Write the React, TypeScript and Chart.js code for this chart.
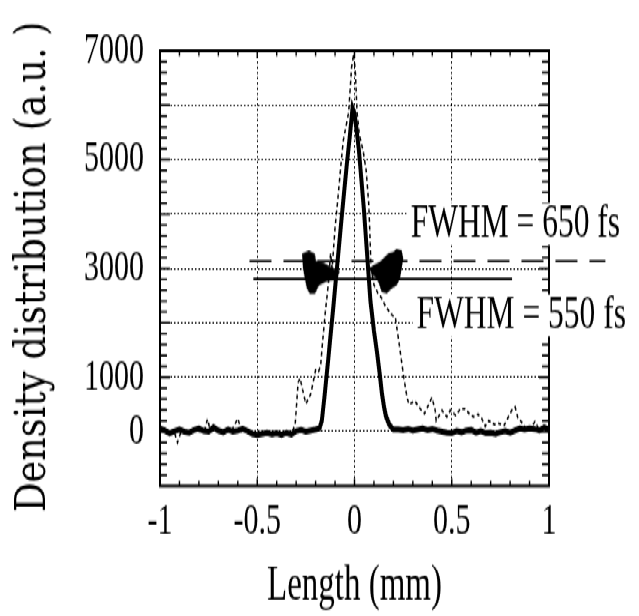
import React, { useEffect, useRef } from 'react';
import { Chart, registerables } from 'chart.js';

Chart.register(...registerables);

// ---------------- data ----------------
const xTickValues = [-1, -0.5, 0, 0.5, 1];
const xTickLabels = ['-1', '-0.5', '0', '0.5', '1'];
const yTickValues = [0, 1000, 3000, 5000, 7000];
const yTickLabels = ['0', '1000', '3000', '5000', '7000'];
const xTitle = 'Length (mm)';
const yTitle = 'Density distribution (a.u. )';

// thick solid profile (FWHM = 550 fs)
const narrowX = [
  -1, -0.975, -0.95, -0.925, -0.9, -0.875, -0.85, -0.825, -0.8, -0.775, -0.75, -0.725, -0.7, -0.675,
  -0.65, -0.625, -0.6, -0.575, -0.55, -0.525, -0.5, -0.475, -0.45, -0.425, -0.4, -0.375, -0.35, -0.325,
  -0.3, -0.275, -0.25, -0.225, -0.2, -0.18, -0.168, -0.155, -0.135, -0.11, -0.088, -0.063, -0.04, -0.025,
  -0.01, 0, 0.012, 0.022, 0.035, 0.048, 0.065, 0.082, 0.1, 0.116, 0.13, 0.141, 0.152, 0.162, 0.18, 0.2,
  0.225, 0.25, 0.275, 0.3, 0.325, 0.35, 0.375, 0.4, 0.425, 0.45, 0.475, 0.5, 0.525, 0.55, 0.575, 0.6,
  0.625, 0.65, 0.675, 0.7, 0.725, 0.75, 0.775, 0.8, 0.825, 0.85, 0.875, 0.9, 0.925, 0.95, 0.975, 1,
];
const narrowY = [
  60, 20, -30, 10, 40, 0, -20, 30, 60, 10, 0, 80, 20, -10,
  40, 0, 20, 50, 10, -40, -60, -40, -20, -50, -30, -60, -20, -50,
  10, 30, 0, 20, 40, 60, 200, 620, 1330, 2250, 3100, 4050, 4900, 5400,
  5950, 5850, 5500, 5200, 4650, 4100, 3250, 2400, 1850, 1450, 1050, 700, 450, 280, 120, 40,
  40, 30, 50, 20, 40, 60, 30, 50, 20, 0, -20, -30, 10, -10, 20, 30,
  -20, 10, -30, -20, -40, -10, 10, -20, 20, 60, 40, 60, 50, 20, 80, 40,
];

// thin dashed profile (FWHM = 650 fs)
const wideX = [
  -1, -0.96, -0.93, -0.91, -0.89, -0.85, -0.82, -0.8, -0.77, -0.756, -0.74, -0.7, -0.66, -0.63,
  -0.6, -0.58, -0.55, -0.52, -0.48, -0.45, -0.42, -0.38, -0.35, -0.32, -0.305, -0.29, -0.28, -0.265,
  -0.25, -0.235, -0.225, -0.2, -0.185, -0.174, -0.166, -0.15, -0.135, -0.123, -0.115, -0.1, -0.085,
  -0.07, -0.058, -0.03, -0.015, -0.004, 0.005, 0.013, 0.025, 0.045, 0.06, 0.073, 0.078, 0.085, 0.1,
  0.12, 0.14, 0.16, 0.19, 0.21, 0.23, 0.254, 0.27, 0.28, 0.31, 0.338, 0.36, 0.398, 0.415, 0.42, 0.45,
  0.475, 0.492, 0.52, 0.545, 0.569, 0.59, 0.612, 0.635, 0.653, 0.672, 0.69, 0.72, 0.74, 0.77, 0.808,
  0.826, 0.84, 0.858, 0.88, 0.9, 0.928, 0.95, 0.979, 1,
];
const wideY = [
  40, -10, 30, -200, 20, 0, 40, 10, 30, 230, 10, 20, -10, 30,
  240, 10, 20, -40, -60, -30, -70, -40, -60, 0, 130, 900, 980, 740,
  510, 620, 690, 1130, 1100, 1215, 1570, 2200, 2700, 3280, 3000, 3750, 4300,
  4900, 5345, 5870, 6700, 6950, 6580, 5875, 5460, 5150, 4800, 4200, 3750, 3000, 2700,
  2550, 2455, 2300, 2150, 2100, 1600, 980, 626, 500, 560, 420, 330, 626, 390, 200, 390,
  270, 390, 300, 420, 420, 330, 270, 320, 250, 95, 200, 130, 150, 120, 390,
  450, 250, 180, 60, 40, 185, 30, 95, 50,
];

// FWHM marker lines
const fwhm650X = [-0.54, 1.29];
const fwhm650Y = [3133, 3133];
const fwhm550X = [-0.52, 0.81];
const fwhm550Y = [2808, 2808];

// FWHM arrow heads
const arrowX = [-0.173, 0.167];
const arrowY = [2915, 2942];

// annotations
const noteTexts = ['FWHM = 650 fs', 'FWHM = 550 fs'];
const noteX = [0.289, 0.319];
const noteY = [3818, 2136];

// ---------------- layout ----------------
const W = 639;
const FINAL_H = 616;
const H = 411;
const S = FINAL_H / H; // vertical stretch of the original picture
const SERIF = '"Liberation Serif", "Times New Roman", Times, serif';
const SLAB = '"DejaVu Serif", "Liberation Serif", serif';

const pts = (xs: number[], ys: number[]) => xs.map((x, i) => ({ x, y: ys[i] }));

function makeArrow(poly: number[][], w: number, h: number): HTMLCanvasElement {
  const c = document.createElement('canvas');
  c.width = Math.ceil(w);
  c.height = Math.ceil(h / S);
  const g = c.getContext('2d')!;
  g.fillStyle = '#000';
  g.beginPath();
  poly.forEach(([px, py], i) => {
    if (i === 0) g.moveTo(px, py / S);
    else g.lineTo(px, py / S);
  });
  g.closePath();
  g.fill();
  return c;
}

const framePlugin = {
  id: 'frameTicks',
  beforeDatasetsDraw(chart: any) {
    const { ctx, chartArea: a, scales } = chart;
    const x = scales.x;
    const y = scales.y;
    ctx.save();
    ctx.strokeStyle = '#000';
    ctx.lineWidth = 2;
    ctx.strokeRect(a.left, a.top, a.right - a.left, a.bottom - a.top);
    ctx.lineWidth = 1.4;
    ctx.beginPath();
    for (let i = -9; i <= 9; i++) {
      const px = x.getPixelForValue(i / 10);
      const len = i % 5 === 0 ? 5 : 3.5;
      ctx.moveTo(px, a.bottom);
      ctx.lineTo(px, a.bottom - len);
      ctx.moveTo(px, a.top);
      ctx.lineTo(px, a.top + len);
    }
    for (let v = -800; v <= 6800; v += 200) {
      const py = y.getPixelForValue(v);
      const len = v % 1000 === 0 ? 10 : 7;
      ctx.moveTo(a.left, py);
      ctx.lineTo(a.left + len, py);
      ctx.moveTo(a.right, py);
      ctx.lineTo(a.right - len, py);
    }
    ctx.stroke();
    ctx.restore();
  },
  afterDatasetsDraw(chart: any) {
    const { ctx, scales } = chart;
    const x = scales.x;
    const y = scales.y;
    ctx.save();
    ctx.font = '31.5px ' + SERIF;
    ctx.textAlign = 'left';
    ctx.textBaseline = 'middle';
    noteTexts.forEach((t, i) => {
      const px = x.getPixelForValue(noteX[i]);
      const py = y.getPixelForValue(noteY[i]);
      const w = ctx.measureText(t).width;
      ctx.fillStyle = '#fff';
      ctx.fillRect(px - 4, py - 14, w + 8, 28);
      ctx.fillStyle = '#000';
      ctx.fillText(t, px, py);
    });
    ctx.restore();
  },
  afterDraw(chart: any) {
    const { ctx } = chart;
    ctx.save();
    ctx.font = '42px ' + SLAB;
    const w = ctx.measureText(yTitle).width;
    ctx.translate(45, 178);
    ctx.rotate(-Math.PI / 2);
    ctx.scale(327 / w, 1);
    ctx.textAlign = 'center';
    ctx.textBaseline = 'alphabetic';
    ctx.fillStyle = '#000';
    ctx.fillText(yTitle, 0, 0);
    ctx.restore();
  },
};

export default function App() {
  const ref = useRef<HTMLCanvasElement | null>(null);

  useEffect(() => {
    if (!ref.current) return;
    Chart.defaults.color = '#000';
    Chart.defaults.font.family = SERIF;

    const leftArrow = makeArrow(
      [[0, 3], [7, 0], [13, 3], [14, 10], [20, 11], [27, 15], [33, 18], [38, 21], [33, 29], [24, 31],
       [17, 35], [13, 43], [8, 43], [5, 38], [3, 28], [1, 17]],
      38, 44,
    );
    const rightArrow = makeArrow(
      [[0, 20], [3, 16.7], [10, 13.3], [15, 8.3], [18.3, 5], [23.3, 3.3], [26.7, 0], [31.7, 1.7],
       [33.3, 10], [31.7, 20], [30, 30], [26.7, 36.7], [21.7, 40], [16.7, 45], [11.7, 43.3],
       [8.3, 33.3], [5, 28.3], [1.7, 26.7]],
      34, 45,
    );

    const chartTop = 34 / S;
    const chartBottom = 486 / S;

    const chart = new Chart(ref.current, {
      type: 'scatter',
      data: {
        datasets: [
          {
            label: 'arrows',
            data: pts(arrowX, arrowY),
            showLine: false,
            pointStyle: [leftArrow, rightArrow] as any,
            pointRadius: 5,
            pointHoverRadius: 5,
          },
          {
            label: 'narrow',
            data: pts(narrowX, narrowY),
            showLine: true,
            borderColor: '#000',
            borderWidth: 4,
            pointRadius: 0,
            tension: 0,
          },
          {
            label: 'fwhm550',
            data: pts(fwhm550X, fwhm550Y),
            showLine: true,
            borderColor: '#000',
            borderWidth: 1.6,
            pointRadius: 0,
            clip: false as any,
          },
          {
            label: 'fwhm650',
            data: pts(fwhm650X, fwhm650Y),
            showLine: true,
            borderColor: '#000',
            borderWidth: 1.6,
            borderDash: [22, 12],
            pointRadius: 0,
            clip: false as any,
          },
          {
            label: 'wide',
            data: pts(wideX, wideY),
            showLine: true,
            borderColor: '#000',
            borderWidth: 1.5,
            borderDash: [3, 2.5],
            pointRadius: 0,
            tension: 0,
          },
        ],
      },
      options: {
        responsive: false,
        animation: false,
        devicePixelRatio: 1,
        layout: { padding: { top: chartTop, right: W - 549, left: 0, bottom: 0 } },
        plugins: { legend: { display: false }, tooltip: { enabled: false } },
        scales: {
          x: {
            type: 'linear',
            min: -1,
            max: 1,
            afterFit: (s: any) => { s.height = H - chartBottom; },
            ticks: {
              stepSize: 0.5,
              autoSkip: false,
              maxRotation: 0,
              padding: 6,
              font: { size: 30, family: SERIF },
              callback: (v: any) => {
                const i = xTickValues.findIndex((t) => Math.abs(t - Number(v)) < 1e-6);
                return i >= 0 ? xTickLabels[i] : '';
              },
            },
            grid: {
              drawTicks: false,
              lineWidth: 1,
              color: (c: any) => (c.tick && Math.abs(c.tick.value) < 0.99 ? '#000' : 'rgba(0,0,0,0)'),
            },
            border: { display: false, dash: [1.5, 2] },
            title: { display: true, text: xTitle, font: { size: 33, family: SERIF }, padding: 0 },
          },
          y: {
            type: 'linear',
            min: -1000,
            max: 7000,
            afterFit: (s: any) => { s.width = 160; },
            ticks: {
              stepSize: 1000,
              autoSkip: false,
              padding: 16,
              font: { size: 30, family: SERIF },
              callback: (v: any) => {
                const i = yTickValues.indexOf(Number(v));
                return i >= 0 ? yTickLabels[i] : '';
              },
            },
            grid: {
              drawTicks: false,
              lineWidth: 1,
              color: (c: any) =>
                c.tick && c.tick.value > -999 && c.tick.value < 6999 ? '#000' : 'rgba(0,0,0,0)',
            },
            border: { display: false, dash: [1.5, 2] },
            title: { display: false },
          },
        },
      },
      plugins: [framePlugin],
    });

    let alive = true;
    const fonts: any = (document as any).fonts;
    if (fonts && fonts.load) {
      Promise.all([
        fonts.load('30px "Liberation Serif"'),
        fonts.load('42px "DejaVu Serif"'),
      ])
        .then(() => { if (alive) chart.update(); })
        .catch(() => {});
    }

    return () => {
      alive = false;
      chart.destroy();
    };
  }, []);

  return (
    <div
      style={{
        position: 'fixed',
        left: 0,
        top: 0,
        width: W,
        height: H,
        transform: `scaleY(${S})`,
        transformOrigin: '0 0',
        background: '#fff',
      }}
    >
      <canvas ref={ref} width={W} height={H} style={{ display: 'block' }} />
    </div>
  );
}
